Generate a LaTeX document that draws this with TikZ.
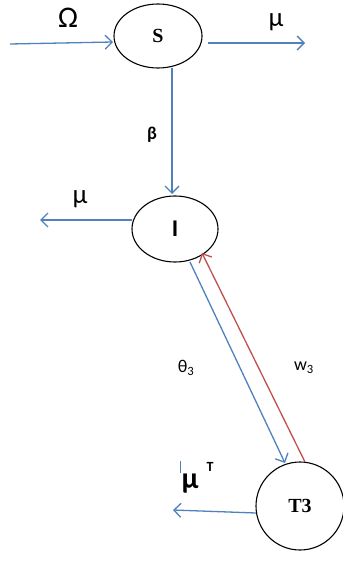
\documentclass[tikz,border=0pt]{standalone}
\usepackage{fontspec}
\setmainfont{Liberation Serif}
\newfontfamily\lab{Carlito}
\usetikzlibrary{arrows.meta,shapes.geometric}
\begin{document}
\begin{tikzpicture}[x=1pt,y=-1pt,
  blueline/.style={draw={rgb,255:red,79;green,129;blue,189},line width=1.3pt,-{Straight Barb[length=7pt,width=14pt,line width=1.3pt]}},
  redline/.style={draw={rgb,255:red,192;green,80;blue,77},line width=1.3pt,-{Straight Barb[length=7pt,width=14pt,line width=1.3pt]}},
  state/.style={draw,line width=1.1pt,fill=white,ellipse},
  lbl/.style={font=\lab}]
\useasboundingbox (0,0) rectangle (342,561);
\node[state,minimum width=88pt,minimum height=64pt,inner sep=0pt,font=\fontsize{20}{20}\selectfont\bfseries] (S) at (158,36) {S};
\node[state,minimum width=86pt,minimum height=66pt,inner sep=0pt,font=\lab\fontsize{24}{24}\selectfont\bfseries] (I) at (175,229) {I};
\node[draw,circle,line width=1.1pt,fill=white,minimum size=88pt,inner sep=0pt,font=\fontsize{20}{20}\selectfont\bfseries] (T) at (300,506) {T3};
\coordinate (in0) at (10,44);
\coordinate (sin) at (113,42);
\coordinate (sout) at (208,43);
\coordinate (out1) at (305,43);
\coordinate (s0) at (172,68);
\coordinate (iin) at (172,194);
\coordinate (iout) at (132,220);
\coordinate (out2) at (40,220);
\coordinate (ib) at (190,262);
\coordinate (tt) at (285,463);
\coordinate (ttr) at (305,462);
\coordinate (ir) at (202,253);
\coordinate (tout) at (256,513);
\coordinate (out3) at (173,510);
\draw[blueline] (in0) -- (sin);
\draw[blueline] (sout) -- (out1);
\draw[blueline] (s0) -- (iin);
\draw[blueline] (iout) -- (out2);
\draw[blueline] (ib) -- (tt);
\draw[redline] (ttr) -- (ir);
\draw[blueline] (tout) -- (out3);
\draw[draw={rgb,255:red,79;green,129;blue,189},line width=1pt] (180,461) -- (180,473);
\node[lbl,font=\lab\fontsize{30}{30}\selectfont] (om) at (68,18) {Ω};
\node[lbl,font=\lab\fontsize{27}{27}\selectfont] (mu1) at (276,22) {μ};
\node[lbl,font=\lab\fontsize{18}{18}\selectfont\bfseries] (beta) at (152,135) {β};
\node[lbl,font=\lab\fontsize{27}{27}\selectfont] (mu2) at (80,199) {μ};
\node[lbl,font=\lab\fontsize{18}{18}\selectfont] (th) at (186,368) {θ\textsubscript{3}};
\node[lbl,font=\lab\fontsize{18}{18}\selectfont] (w) at (304,368) {w\textsubscript{3}};
\node[lbl,font=\lab\fontsize{30}{30}\selectfont\bfseries] (mu3) at (190,484) {μ};
\node[lbl,font=\lab\fontsize{14}{14}\selectfont\bfseries] (tT) at (210,467) {T};
\end{tikzpicture}
\end{document}
